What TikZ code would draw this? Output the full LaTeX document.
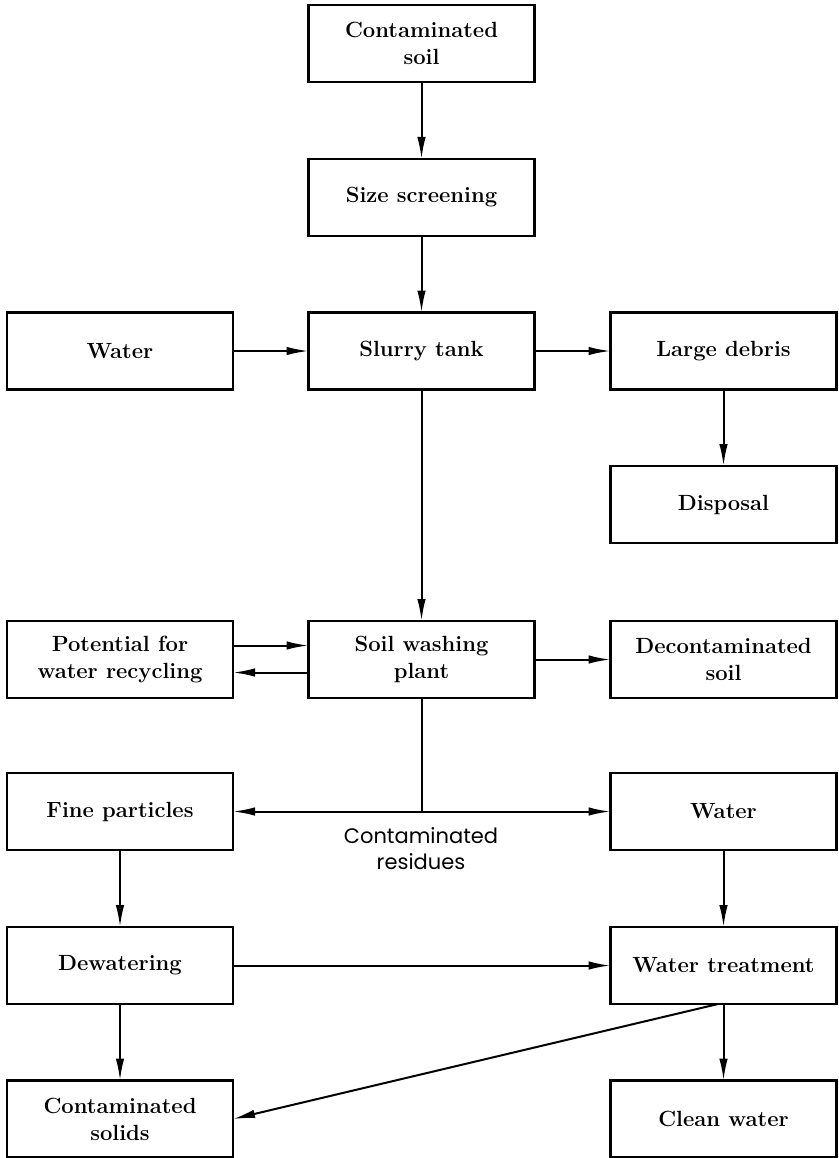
\documentclass[tikz,border=0pt]{standalone}
\usepackage{fontspec}
\newfontfamily\resfont{Poppins}
\usetikzlibrary{arrows.meta}
\begin{document}
\begin{tikzpicture}[x=1pt,y=-1pt,
  box/.style={draw, line width=2.6pt, minimum width=226pt, minimum height=77pt,
    inner sep=0pt, outer sep=0pt, align=center, font=\fontsize{22}{27}\selectfont\bfseries},
  conn/.style={line width=2pt, -{Latex[length=22pt,width=8.5pt]}},
  plain/.style={line width=2pt}]
\useasboundingbox (0,0) rectangle (838,1158);
\node[box] (cs) at (421.5,43.5) {Contaminated\\soil};
\node[box] (ss) at (421.5,197.5) {Size screening};
\node[box] (w1) at (120,351) {Water};
\node[box] (st) at (421.5,351) {Slurry tank};
\node[box] (ld) at (723.5,351) {Large debris};
\node[box] (dp) at (723.5,504.5) {Disposal};
\node[box] (pw) at (120,659.5) {Potential for\\water recycling};
\node[box] (sw) at (421.5,659.5) {Soil washing\\plant};
\node[box] (ds) at (723.5,659.5) {Decontaminated\\soil};
\node[box] (fp) at (120,811.5) {Fine particles};
\node[box] (w2) at (723.5,811.5) {Water};
\node[box] (dw) at (120,965.5) {Dewatering};
\node[box] (wt) at (723.5,965.5) {Water treatment};
\node[box] (csol) at (120,1119) {Contaminated\\solids};
\node[box] (cw) at (723.5,1119) {Clean water};
\node[font=\resfont\fontsize{21}{26}\selectfont, align=center] (lbl) at (421,849) {Contaminated\\residues};
\coordinate (j) at (421.5,811.5);
\draw[conn] (cs) -- (ss);
\draw[conn] (ss) -- (st);
\draw[conn] (w1) -- (st);
\draw[conn] (st) -- (ld);
\draw[conn] (ld) -- (dp);
\draw[conn] (st) -- (sw);
\draw[conn] ([yshift=14pt]pw.east) -- ([yshift=14pt]sw.west);
\draw[conn] ([yshift=-13pt]sw.west) -- ([yshift=-13pt]pw.east);
\draw[conn] (sw) -- (ds);
\draw[plain] (sw) -- (j);
\draw[conn] (j) -- (fp);
\draw[conn] (j) -- (w2);
\draw[conn] (fp) -- (dw);
\draw[conn] (w2) -- (wt);
\draw[conn] (dw) -- (wt);
\draw[conn] (dw) -- (csol);
\draw[conn] (wt) -- (cw);
\draw[conn] ([xshift=-5.5pt]wt.south) -- (csol.east);
\end{tikzpicture}
\end{document}
